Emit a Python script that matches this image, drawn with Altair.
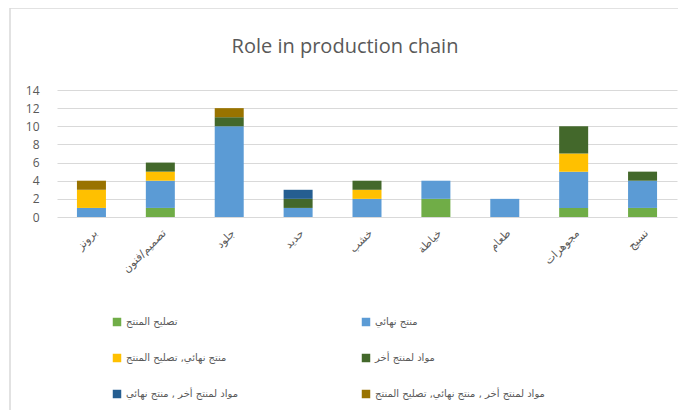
import altair as alt
import pandas as pd

categories = ["برونز", "تصميم/فنون", "جلود", "حديد", "خشب", "خياطة", "طعام", "مجوهرات", "نسيج"]
series_names = [
    "تصليح المنتج",
    "منتج نهائي",
    "منتج نهائي, تصليح المنتج",
    "مواد لمنتج أخر",
    "مواد لمنتج أخر , منتج نهائي",
    "مواد لمنتج أخر , منتج نهائي, تصليح المنتج",
]
s1 = [0, 1, 0, 0, 0, 2, 0, 1, 1]
s2 = [1, 3, 10, 1, 2, 2, 2, 4, 3]
s3 = [2, 1, 0, 0, 1, 0, 0, 2, 0]
s4 = [0, 1, 1, 1, 1, 0, 0, 3, 1]
s5 = [0, 0, 0, 1, 0, 0, 0, 0, 0]
s6 = [1, 0, 1, 0, 0, 0, 0, 0, 0]
colors = ["#70AD47", "#5B9BD5", "#FFC000", "#43682B", "#255E91", "#997300"]
y_ticks = [0, 2, 4, 6, 8, 10, 12, 14]

rows = []
for idx, (name, vals) in enumerate(zip(series_names, [s1, s2, s3, s4, s5, s6])):
    for cat, v in zip(categories, vals):
        if v:
            rows.append({"category": cat, "series": name, "value": v, "order": idx})
df = pd.DataFrame(rows)

bars = alt.Chart(df).mark_bar(size=29).encode(
    x=alt.X("category:N", sort=categories, title=None,
            scale=alt.Scale(paddingInner=0.58, paddingOuter=0.29),
            axis=alt.Axis(labelAngle=-45, labelFont="DejaVu Sans", labelFontSize=11,
                          labelColor="#595959", ticks=False, domain=False, labelPadding=10)),
    y=alt.Y("value:Q", title=None, stack="zero",
            scale=alt.Scale(domain=[0, 14], nice=False),
            axis=alt.Axis(values=y_ticks, labelFont="Open Sans", labelFontSize=12,
                          labelColor="#595959", ticks=False, domain=False, labelPadding=18,
                          gridColor="#D9D9D9", gridWidth=1)),
    color=alt.Color("series:N", sort=series_names,
                    scale=alt.Scale(domain=series_names, range=colors),
                    legend=alt.Legend(title=None, orient="none", legendX=55, legendY=227,
                                      direction="horizontal",
                                      columns=2, columnPadding=122, rowPadding=26,
                                      symbolType="square", symbolSize=72, symbolStrokeWidth=0,
                                      labelFont="DejaVu Sans", labelFontSize=10,
                                      labelLimit=400,
                                      labelColor="#595959", labelOffset=4, padding=0)),
    order=alt.Order("order:Q", sort="ascending"),
)

frame = alt.Chart(alt.Data(values=[{"k": 1}])).mark_rect(
    fill="transparent", stroke="#D9D9D9", strokeWidth=1.5
).encode(
    x=alt.value(-47), x2=alt.value(700), y=alt.value(-82), y2=alt.value(400)
)

chart = alt.layer(frame, bars).properties(
    width=620, height=127,
    autosize=alt.AutoSizeParams(type="none"),
    padding={"left": 49, "top": 82, "right": 1, "bottom": 193},
    title=alt.TitleParams("Role in production chain", font="Open Sans", fontSize=20,
                          fontWeight="normal", color="#595959", anchor="middle",
                          frame="group", dx=-22, offset=0, dy=50),
).configure_view(stroke=None)

chart.save("out.html", embed_options={"renderer": "svg", "actions": False})
